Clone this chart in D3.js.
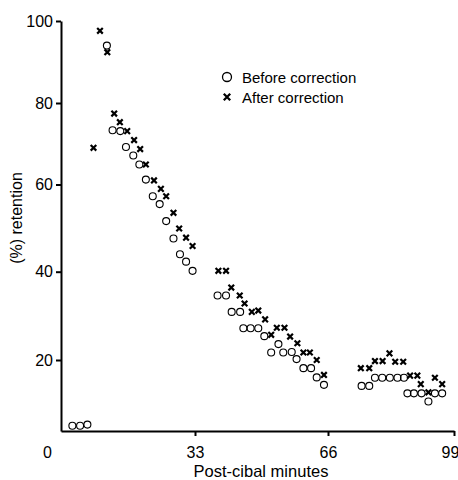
<!DOCTYPE html>
<html><head><meta charset="utf-8">
<script src="https://cdn.jsdelivr.net/npm/d3@7"></script>
<style>
html,body{margin:0;padding:0;background:#fff;}
text{font-family:"Liberation Sans",Arial,sans-serif;fill:#000;}
</style></head>
<body>
<svg id="chart" width="458" height="480"></svg>
<script>
// ---- data ----
const xTicks = [0, 33, 66, 99];
const yTicks = [20, 40, 60, 80, 100];
const xLabel = "Post-cibal minutes";
const yLabel = "(%) retention";
const seriesNames = ["Before correction", "After correction"];

const beforeMin = [2.8,4.7,6.5,11.3,12.7,14.6,16.0,17.8,19.3,20.9,22.6,24.3,25.9,27.7,29.3,30.8,32.4,
  38.6,40.7,42.1,44.2,45.0,46.8,48.7,50.2,51.9,53.7,54.9,57.0,58.2,59.9,61.8,63.2,65.0,
  74.8,76.8,78.3,80.2,82.2,84.2,85.9,86.8,88.5,90.5,92.3,94.0,95.9];
const beforeRet = [1.5,1.5,1.8,94.0,73.3,73.1,69.2,67.1,64.9,61.2,57.3,55.5,51.6,47.6,44.0,42.3,40.2,
  34.6,34.6,30.9,30.9,27.2,27.2,27.2,25.4,21.7,23.6,21.7,21.8,20.2,17.7,17.7,15.1,13.0,
  12.7,12.7,15.0,15.0,15.0,15.0,15.0,10.6,10.6,10.6,8.3,10.6,10.6];

const afterMin = [8.0,9.6,11.4,13.1,14.5,16.3,18.0,19.5,20.9,22.9,24.6,25.9,27.7,29.1,30.8,32.4,
  38.8,40.7,42.0,44.1,45.3,47.1,48.7,50.4,51.9,53.3,55.2,56.6,58.4,59.9,61.5,63.2,65.0,
  74.6,76.8,78.3,80.3,82.1,83.6,85.7,87.5,89.4,90.3,92.3,94.0,95.9];
const afterRet = [69.0,97.6,92.4,77.4,75.3,73.1,70.9,68.7,64.9,61.0,59.0,57.3,53.5,49.9,47.8,45.9,
  40.2,40.2,36.4,34.6,32.8,30.9,31.2,29.2,25.7,27.3,27.3,25.3,23.8,21.7,21.7,20.0,15.8,
  17.7,17.7,19.7,19.7,21.5,19.5,19.5,15.6,15.6,13.2,10.9,15.0,13.2];

// ---- layout ----
const svg = d3.select("#chart");
// piecewise scales follow the (slightly uneven) printed axes
const x = d3.scaleLinear().domain(xTicks).range([61, 195, 328, 454]);
const y = d3.scaleLinear().domain([0].concat(yTicks)).range([431, 360, 271.7, 184.5, 103, 21]);

const before = beforeMin.map((m, i) => ({m, r: beforeRet[i]}));
const after = afterMin.map((m, i) => ({m, r: afterRet[i]}));

// axes
const gx = svg.append("g").attr("transform", `translate(0,${y(0)})`)
  .call(d3.axisBottom(x).tickValues(xTicks).tickSize(5).tickSizeOuter(0).tickPadding(10.5));
const gy = svg.append("g").attr("transform", `translate(${x(0)},0)`)
  .call(d3.axisLeft(y).tickValues(yTicks).tickSize(5).tickSizeOuter(0).tickPadding(3));

[gx, gy].forEach(g => {
  g.select(".domain").attr("stroke", "#000").attr("stroke-width", 2);
  g.selectAll(".tick line").attr("stroke", "#000").attr("stroke-width", 2);
  g.selectAll(".tick text").style("font-size", "16px").attr("fill", "#000")
    .style("font-family", '"Liberation Sans",Arial,sans-serif');
});
gx.selectAll(".tick").filter(d => d === 0).select("line").remove();
gx.selectAll(".tick text").attr("dx", d => d === 0 ? -14 : (d === 99 ? -4 : 0));

// axis titles
svg.append("text").attr("x", 261).attr("y", 477).attr("text-anchor", "middle")
  .style("font-size", "16.5px").text(xLabel);
svg.append("text").attr("transform", `translate(22,218) rotate(-90)`).attr("text-anchor", "middle")
  .style("font-size", "16px").text(yLabel);

// markers
const crossPath = s => `M${-s},${-s}L${s},${s}M${-s},${s}L${s},${-s}`;
svg.append("g").selectAll("circle").data(before).join("circle")
  .attr("cx", d => x(d.m)).attr("cy", d => y(d.r)).attr("r", 3.5)
  .attr("fill", "none").attr("stroke", "#000").attr("stroke-width", 1.1);
svg.append("g").selectAll("path").data(after).join("path")
  .attr("transform", d => `translate(${x(d.m)},${y(d.r)})`)
  .attr("d", crossPath(2.8)).attr("stroke", "#000").attr("stroke-width", 2.2).attr("fill", "none");

// legend
const lg = svg.append("g").attr("transform", "translate(227,77)");
lg.append("circle").attr("cx", 0).attr("cy", 0).attr("r", 4.5)
  .attr("fill", "none").attr("stroke", "#000").attr("stroke-width", 1.3);
lg.append("path").attr("transform", "translate(0,20)").attr("d", crossPath(3.2))
  .attr("stroke", "#000").attr("stroke-width", 2.3);
lg.selectAll("text").data(seriesNames).join("text")
  .attr("x", 15).attr("y", (d, i) => i * 20 + 5.5).style("font-size", "15px").text(d => d);
</script>
</body></html>
